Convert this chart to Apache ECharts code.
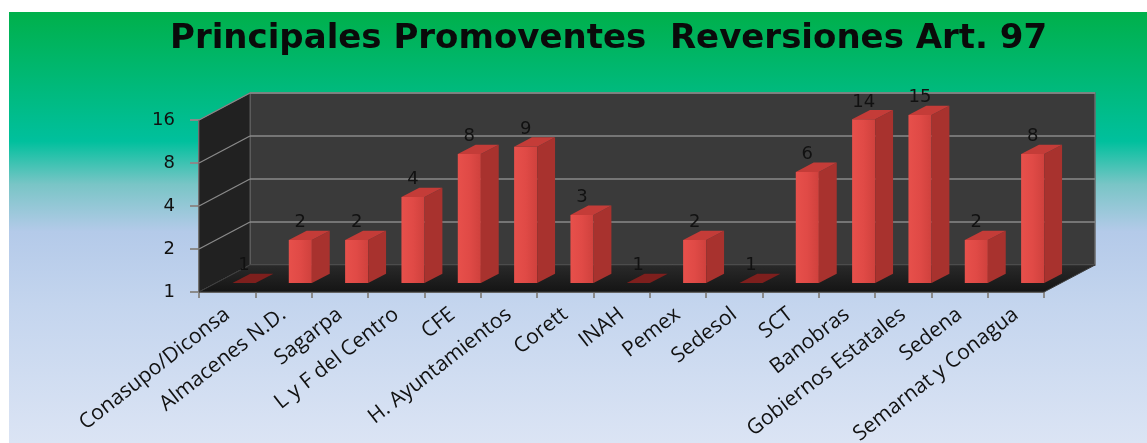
<!DOCTYPE html>
<html>
<head>
<meta charset="utf-8">
<script src="https://cdn.jsdelivr.net/npm/echarts@6/dist/echarts.min.js"></script>
<style>
html,body{margin:0;padding:0;background:#fff;}
#c{width:1147px;height:443px;}
</style>
</head>
<body>
<div id="c"></div>
<script>
const categories = ["Conasupo/Diconsa","Almacenes N.D.","Sagarpa","L y F del Centro","CFE","H. Ayuntamientos","Corett","INAH","Pemex","Sedesol","SCT","Banobras","Gobiernos Estatales","Sedena","Semarnat y Conagua"];
const values = [1,2,2,4,8,9,3,1,2,1,6,14,15,2,8];
const yTicks = [1,2,4,8,16];
const titleText = "Principales Promoventes  Reversiones Art. 97";

const DX = 51, DY = -27;     // oblique depth offset of the 3D box
const D1 = 0.33, DD = 0.35;  // bar front position and bar depth (fraction of box depth)

const chart = echarts.init(document.getElementById('c'), null, {renderer:'canvas'});

function frameItem(params, api) {
  const n = categories.length;
  const bw = api.size([1, 0])[0];
  const x0 = api.coord([0, 1])[0] - bw / 2;
  const x1 = api.coord([n - 1, 1])[0] + bw / 2;
  const yB = api.coord([0, yTicks[0]])[1];
  const yT = api.coord([0, yTicks[yTicks.length - 1]])[1];
  const ch = [];
  ch.push({type:'polygon', shape:{points:[[x0+DX,yT+DY],[x1+DX,yT+DY],[x1+DX,yB+DY],[x0+DX,yB+DY]]},
    style:{fill:'#3a3a3a', stroke:'#6a6a6a', lineWidth:1.5}});
  ch.push({type:'polygon', shape:{points:[[x0,yT],[x0+DX,yT+DY],[x0+DX,yB+DY],[x0,yB]]},
    style:{fill:'#212121', stroke:'#5a5a5a', lineWidth:1}});
  ch.push({type:'polygon', shape:{points:[[x0,yB],[x1,yB],[x1+DX,yB+DY],[x0+DX,yB+DY]]},
    style:{fill:{type:'linear',x:0,y:0,x2:0,y2:1,colorStops:[{offset:0,color:'#2a2a2a'},{offset:1,color:'#141414'}]}, stroke:'#3c3c3c', lineWidth:1}});
  yTicks.forEach(function (t, k) {
    if (k === 0) return;
    const y = api.coord([0, t])[1];
    ch.push({type:'line', shape:{x1:x0+DX, y1:y+DY, x2:x1+DX, y2:y+DY}, style:{stroke:'#8a8a8a', lineWidth:1.3}});
    ch.push({type:'line', shape:{x1:x0, y1:y, x2:x0+DX, y2:y+DY}, style:{stroke:'#8a8a8a', lineWidth:1.3}});
  });
  return {type:'group', children:ch};
}

function barItem(params, api) {
  const i = api.value(0), v = api.value(1);
  const bw = api.size([1, 0])[0];
  const w = bw * 0.41;
  const p0 = api.coord([i, 1]);
  const p1 = api.coord([i, v]);
  const cx = p0[0] + D1 * DX;
  const yb = p0[1] + D1 * DY;
  const yt = p1[1] + D1 * DY;
  const xl = cx - w / 2, xr = cx + w / 2;
  const ox = DD * DX, oy = DD * DY;
  const flat = (yb - yt) < 1;
  const ch = [];
  if (!flat) {
    ch.push({type:'rect', shape:{x:xl, y:yt, width:w, height:yb-yt},
      style:{fill:{type:'linear',x:0,y:0,x2:1,y2:0,colorStops:[{offset:0,color:'#e7504b'},{offset:0.5,color:'#e04a46'},{offset:1,color:'#cf413d'}]}}});
    ch.push({type:'polygon', shape:{points:[[xr,yt],[xr+ox,yt+oy],[xr+ox,yb+oy],[xr,yb]]},
      style:{fill:'#a8322e'}});
  }
  ch.push({type:'polygon', shape:{points:[[xl,yt],[xr,yt],[xr+ox,yt+oy],[xl+ox,yt+oy]]},
    style:{fill: flat ? '#7e1f1d' : '#c43c38'}});
  ch.push({type:'text', style:{text:String(v), x:cx, y:yt+oy-8, align:'center', verticalAlign:'middle',
    fill:'#111', font:'18px "DejaVu Sans", Verdana, sans-serif'}});
  return {type:'group', children:ch};
}

chart.setOption({
  animation:false,
  backgroundColor:'#ffffff',
  graphic:[{
    type:'rect', z:-10, silent:true,
    shape:{x:9, y:12, width:1138, height:431},
    style:{fill:{type:'linear',x:0,y:0,x2:0,y2:1,colorStops:[
      {offset:0,color:'#00b04b'},
      {offset:0.30,color:'#00c09d'},
      {offset:0.40,color:'#79c5c6'},
      {offset:0.51,color:'#b4cae9'},
      {offset:0.68,color:'#c4d5ee'},
      {offset:1,color:'#dbe4f4'}]}}
  },{
    type:'text', z:10, left:170, top:22,
    style:{text:titleText, fill:'#0a0a0a', font:'bold 34px "DejaVu Sans", sans-serif'}
  }],
  grid:{left:199, right:103, top:120, bottom:151, containLabel:false, outerBoundsMode:'none'},
  xAxis:{
    type:'category', data:categories,
    axisLine:{show:true, lineStyle:{color:'#8a8a8a', width:2}},
    axisTick:{show:true, length:6, lineStyle:{color:'#8a8a8a', width:2}},
    axisLabel:{rotate:38, margin:20, color:'#111', fontSize:21, fontFamily:'"Open Sans", sans-serif', interval:0},
    splitLine:{show:false}
  },
  yAxis:{
    type:'log', logBase:2, min:yTicks[0], max:yTicks[yTicks.length-1],
    axisLine:{show:true, lineStyle:{color:'#8a8a8a', width:2}},
    axisTick:{show:true, length:9, lineStyle:{color:'#8a8a8a', width:2}, customValues:yTicks},
    axisLabel:{margin:24, color:'#111', fontSize:18, fontFamily:'"DejaVu Sans", sans-serif', customValues:yTicks},
    splitLine:{show:false}
  },
  series:[
    {type:'custom', coordinateSystem:'cartesian2d', renderItem:frameItem, data:[[0,1]], z:1, clip:false, silent:true},
    {type:'custom', coordinateSystem:'cartesian2d', renderItem:barItem,
      data:values.map(function(v,i){return [i,v];}), z:2, clip:false, silent:true,
      encode:{x:0, y:1}}
  ]
});
</script>
</body>
</html>
